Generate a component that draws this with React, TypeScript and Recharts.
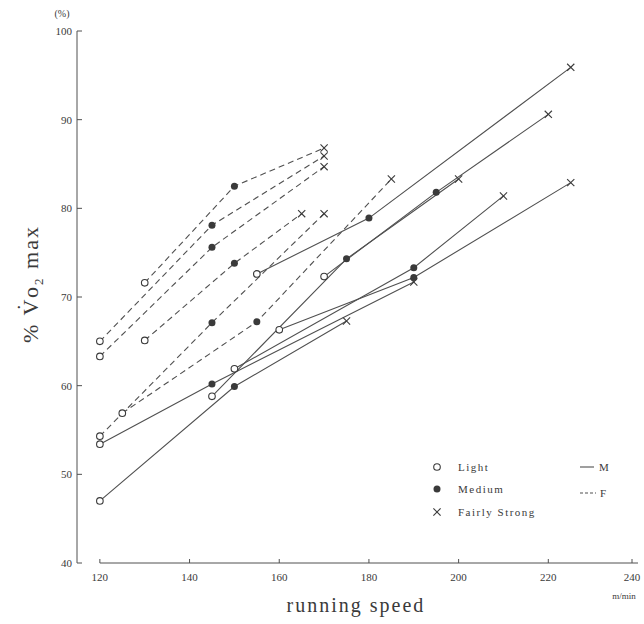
import React from 'react'
import { LineChart, Line, XAxis, YAxis, ReferenceLine } from 'recharts'

// each subject: Light, Medium, Fairly Strong (in that order)
const intensities = ['Light', 'Medium', 'Fairly Strong']

const maleSpeeds = [
  [155, 180, 225],
  [120, 145, 190],
  [120, 150, 175],
  [160, 190, 225],
  [150, 190, 210],
  [145, 175, 200],
  [170, 195, 220],
]
const maleVo2 = [
  [72.6, 78.9, 95.9],
  [53.4, 60.2, 71.7],
  [47.0, 59.9, 67.3],
  [66.3, 72.2, 82.9],
  [61.9, 73.3, 81.4],
  [58.8, 74.3, 83.3],
  [72.3, 81.8, 90.6],
]

const femaleSpeeds = [
  [130, 150, 170],
  [120, 145, 170],
  [120, 145, 170],
  [130, 150, 165],
  [120, 145, 170],
  [125, 155, 185],
]
const femaleVo2 = [
  [71.6, 82.5, 86.8],
  [65.0, 78.1, 85.9],
  [63.3, 75.6, 84.7],
  [65.1, 73.8, 79.4],
  [54.3, 67.1, 79.4],
  [56.9, 67.2, 83.3],
]

const xTicks = [120, 140, 160, 180, 200, 220, 240]
const yTicks = [40, 50, 60, 70, 80, 90, 100]

const INK = '#3a3a3a'
const LINE = '#505050'
const FONT = '"Liberation Serif", "DejaVu Serif", serif'

const toSeries = (speeds: number[][], vals: number[][]) =>
  speeds.map((row, i) => row.map((x, j) => ({ x, y: vals[i][j], kind: intensities[j] })))

const maleSeries = toSeries(maleSpeeds, maleVo2)
const femaleSeries = toSeries(femaleSpeeds, femaleVo2)

function Marker({ cx, cy, kind }: { cx: number; cy: number; kind: string }) {
  if (kind === 'Light') {
    return <circle cx={cx} cy={cy} r={3.3} fill="#fff" stroke={INK} strokeWidth={1.1} />
  }
  if (kind === 'Medium') {
    return <circle cx={cx} cy={cy} r={3.5} fill={INK} />
  }
  const s = 3.6
  return (
    <g stroke={INK} strokeWidth={1.1}>
      <line x1={cx - s} y1={cy - s} x2={cx + s} y2={cy + s} />
      <line x1={cx - s} y1={cy + s} x2={cx + s} y2={cy - s} />
    </g>
  )
}

const renderDot = (props: any) => (
  <g key={`d-${props.index}-${props.cx}-${props.cy}`}>
    <Marker cx={props.cx} cy={props.cy} kind={props.payload.kind} />
  </g>
)

const XTick = (props: any) => {
  const { x, y, payload } = props
  return (
    <g>
      <line x1={x} y1={y} x2={x} y2={y - 4} stroke={LINE} strokeWidth={1} />
      <text x={x} y={y + 18} textAnchor="middle" fontSize={11} fill={INK} fontFamily={FONT}>
        {payload.value}
      </text>
    </g>
  )
}

const YTick = (props: any) => {
  const { x, y, payload } = props
  return (
    <g>
      <line x1={x} y1={y} x2={x + 5} y2={y} stroke={LINE} strokeWidth={1} />
      <text x={x - 5} y={y + 4} textAnchor="end" fontSize={11} fill={INK} fontFamily={FONT}>
        {payload.value}
      </text>
    </g>
  )
}

export default function App() {
  return (
    <div style={{ position: 'absolute', left: 0, top: 0, width: 644, height: 624, background: '#fff' }}>
      <LineChart width={644} height={624} margin={{ top: 31, right: 6, bottom: 31, left: 27 }}>
        <XAxis
          type="number"
          dataKey="x"
          domain={[114.9, 240]}
          ticks={xTicks}
          axisLine={false}
          tickLine={false}
          tickSize={0}
          tickMargin={0}
          height={30}
          tick={<XTick />}
          allowDataOverflow
        />
        <YAxis
          type="number"
          domain={[40, 100]}
          ticks={yTicks}
          axisLine={{ stroke: LINE, strokeWidth: 1 }}
          tickLine={false}
          tickSize={0}
          tickMargin={0}
          width={50}
          tick={<YTick />}
        />
        <ReferenceLine segment={[{ x: 120, y: 40 }, { x: 240, y: 40 }]} stroke={LINE} strokeWidth={1} />
        {femaleSeries.map((d, i) => (
          <Line
            key={`f${i}`}
            data={d}
            dataKey="y"
            type="linear"
            stroke={LINE}
            strokeWidth={1.1}
            strokeDasharray="6 4"
            dot={renderDot}
            activeDot={false}
            isAnimationActive={false}
          />
        ))}
        {maleSeries.map((d, i) => (
          <Line
            key={`m${i}`}
            data={d}
            dataKey="y"
            type="linear"
            stroke={LINE}
            strokeWidth={1.1}
            dot={renderDot}
            activeDot={false}
            isAnimationActive={false}
          />
        ))}
      </LineChart>
      <svg
        width={644}
        height={624}
        style={{ position: 'absolute', left: 0, top: 0, pointerEvents: 'none' }}
        fontFamily={FONT}
        fill={INK}
      >
        <text x={62} y={17} fontSize={10} textAnchor="middle">(%)</text>
        <text transform="translate(38,284) rotate(-90)" textAnchor="middle" fontSize={22} letterSpacing={2}>
          <tspan>% V</tspan>
          <tspan dx={-13} dy={-6} fontSize={20}>˙</tspan>
          <tspan dx={4} dy={6}>o</tspan>
          <tspan dy={5} fontSize={13}>2</tspan>
          <tspan dy={-5}> max</tspan>
        </text>
        <text x={356} y={612} textAnchor="middle" fontSize={20} letterSpacing={2}>running speed</text>
        <text x={624} y={599} textAnchor="middle" fontSize={9}>m/min</text>

        <Marker cx={437} cy={467} kind="Light" />
        <Marker cx={437} cy={489} kind="Medium" />
        <Marker cx={437} cy={512} kind="Fairly Strong" />
        <text x={458} y={471} fontSize={11} letterSpacing={1.5}>Light</text>
        <text x={458} y={493} fontSize={11} letterSpacing={1.5}>Medium</text>
        <text x={458} y={516} fontSize={11} letterSpacing={1.5}>Fairly Strong</text>
        <line x1={580} y1={467} x2={594} y2={467} stroke={LINE} strokeWidth={1.1} />
        <line x1={580} y1={493} x2={596} y2={493} stroke={LINE} strokeWidth={1.1} strokeDasharray="3 2" />
        <text x={599} y={471} fontSize={11}>M</text>
        <text x={600} y={497} fontSize={11}>F</text>
      </svg>
    </div>
  )
}
